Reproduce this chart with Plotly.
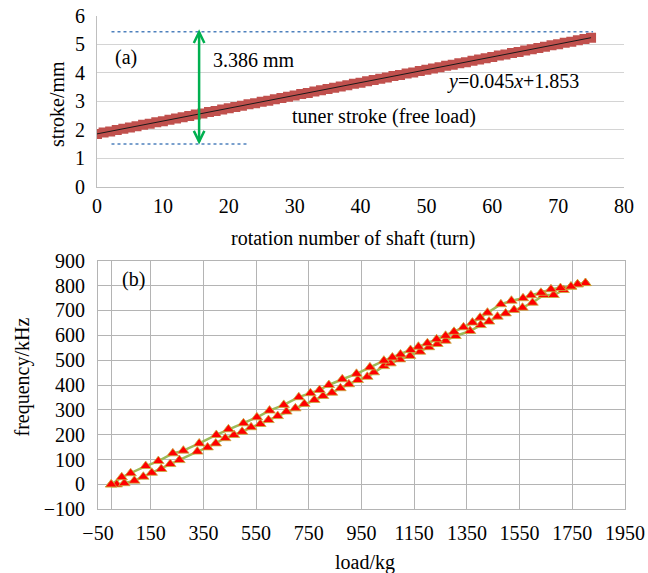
import plotly.graph_objects as go

# ---------------- data: (a) tuner stroke (free load) ----------------
turns = list(range(0, 76))
stroke_mm = [1.85, 1.90, 1.94, 1.99, 2.03, 2.08, 2.12, 2.17, 2.21, 2.26,
             2.30, 2.35, 2.39, 2.44, 2.48, 2.53, 2.57, 2.62, 2.66, 2.71,
             2.75, 2.80, 2.84, 2.89, 2.93, 2.98, 3.02, 3.07, 3.11, 3.16,
             3.20, 3.25, 3.29, 3.34, 3.38, 3.43, 3.47, 3.52, 3.56, 3.61,
             3.65, 3.70, 3.74, 3.79, 3.83, 3.88, 3.92, 3.97, 4.01, 4.06,
             4.10, 4.15, 4.19, 4.24, 4.28, 4.33, 4.37, 4.42, 4.46, 4.51,
             4.55, 4.60, 4.64, 4.69, 4.73, 4.78, 4.82, 4.87, 4.91, 4.96,
             5.00, 5.05, 5.09, 5.14, 5.18, 5.23]
trend_x = [0, 75]
trend_y = [1.853, 5.228]

# ---------------- data: (b) frequency vs load ----------------
load_up_kg = [0, 21, 50, 88, 122, 154, 190, 224, 259, 327, 366, 397, 433, 466,
              497, 531, 566, 597, 632, 665, 699, 733, 771, 804, 838, 870, 902,
              936, 972, 997, 1035, 1060, 1096, 1134, 1172, 1206, 1238, 1269,
              1307, 1362, 1402, 1434, 1466, 1497, 1529, 1561, 1599, 1641, 1679,
              1717, 1745, 1770, 1800]
freq_up_khz = [0, 0, 5, 15, 31, 47, 62, 82, 98, 132, 149, 165, 186, 199, 212,
               230, 243, 259, 275, 293, 306, 324, 340, 356, 369, 387, 403, 420,
               433, 451, 476, 487, 503, 517, 534, 552, 565, 578, 597, 617, 641,
               655, 675, 688, 702, 711, 731, 762, 762, 782, 795, 805, 810]
load_down_kg = [1800, 1770, 1745, 1705, 1669, 1631, 1593, 1563, 1519, 1479,
                1428, 1400, 1371, 1337, 1301, 1269, 1235, 1200, 1166, 1136,
                1098, 1067, 1035, 982, 931, 877, 826, 791, 756, 712, 655, 601,
                553, 502, 445, 399, 334, 274, 234, 179, 131, 74, 40, 0]
freq_down_khz = [810, 805, 796, 790, 785, 771, 761, 749, 739, 725, 691, 671,
                 651, 632, 614, 598, 584, 568, 554, 541, 523, 511, 498, 471,
                 445, 423, 400, 380, 367, 351, 320, 297, 270, 246, 222, 199,
                 165, 136, 125, 94, 74, 45, 29, 0]

FONT = "Liberation Serif, Times New Roman, serif"

fig = go.Figure()

# (a)
fig.add_trace(go.Scatter(
    x=turns, y=stroke_mm, mode="markers", xaxis="x", yaxis="y",
    marker=dict(symbol="square", size=10, color="rgb(192,80,77)",
                line=dict(width=0)),
    showlegend=False, hoverinfo="skip"))
fig.add_trace(go.Scatter(
    x=trend_x, y=trend_y, mode="lines", xaxis="x", yaxis="y",
    line=dict(color="#1a1a1a", width=1), showlegend=False, hoverinfo="skip"))

# (b)
fig.add_trace(go.Scatter(
    x=load_up_kg + load_down_kg, y=freq_up_khz + freq_down_khz,
    mode="lines+markers", xaxis="x2", yaxis="y2",
    line=dict(color="#9BBB59", width=2.5),
    marker=dict(symbol="triangle-up", size=10, color="#FF0000",
                line=dict(color="#C8B040", width=0.8)),
    showlegend=False, hoverinfo="skip"))

ax_font = dict(family=FONT, size=20, color="#000")

fig.update_layout(
    width=648, height=573,
    margin=dict(l=0, r=0, t=0, b=0, autoexpand=False),
    paper_bgcolor="white", plot_bgcolor="white",
    font=ax_font,
    xaxis=dict(domain=[97/648, 624/648], anchor="y", range=[0, 80],
               tick0=0, dtick=10, showgrid=False, zeroline=False,
               showline=True, linecolor="#BFBFBF", linewidth=1,
               ticks="outside", ticklen=1, tickcolor="rgba(0,0,0,0)",
               tickfont=ax_font, automargin=False),
    yaxis=dict(domain=[1-186.7/573, 1-15.7/573], anchor="x", range=[0, 6],
               tick0=0, dtick=1, showgrid=True, gridcolor="#D4D4D4",
               gridwidth=1, zeroline=False,
               showline=True, linecolor="#BFBFBF", linewidth=1,
               ticks="outside", ticklen=7, tickcolor="rgba(0,0,0,0)",
               tickfont=ax_font, automargin=False),
    xaxis2=dict(domain=[98/648, 625/648], anchor="y2", range=[-50, 1950],
                tick0=-50, dtick=200, showgrid=True, gridcolor="#B4B4B4",
                gridwidth=1, zeroline=True, zerolinecolor="#B4B4B4",
                zerolinewidth=1, showline=True, mirror=True,
                linecolor="#B4B4B4", linewidth=1,
                ticks="outside", ticklen=6, tickcolor="rgba(0,0,0,0)",
                tickfont=ax_font, automargin=False),
    yaxis2=dict(domain=[1-509.3/573, 1-260.7/573], anchor="x2",
                range=[-100, 900], tick0=-100, dtick=100, showgrid=True,
                gridcolor="#B4B4B4", gridwidth=1, zeroline=False,
                showline=True, mirror=True, linecolor="#B4B4B4", linewidth=1,
                ticks="outside", ticklen=8, tickcolor="rgba(0,0,0,0)",
                tickfont=ax_font, automargin=False),
)

annots = [
    # axis titles
    dict(text="rotation number of shaft (turn)", x=352.5/648, y=1-238/573),
    dict(text="load/kg", x=364.7/648, y=1-562/573),
    dict(text="stroke/mm", x=57/648, y=1-104/573, textangle=-90),
    dict(text="frequency/kHz", x=22/648, y=1-377.5/573, textangle=-90),
]
for a in annots:
    a.update(xref="paper", yref="paper", showarrow=False,
             xanchor="center", yanchor="middle", font=ax_font)

annots += [
    dict(text="(a)", x=4.4, y=4.52, xref="x", yref="y", showarrow=False,
         font=ax_font),
    dict(text="3.386 mm", x=23.8, y=4.45, xref="x", yref="y",
         showarrow=False, font=ax_font),
    dict(text="<i>y</i>=0.045<i>x</i>+1.853", x=63.1, y=3.68, xref="x",
         yref="y", showarrow=False, font=ax_font),
    dict(text="tuner stroke (free load)", x=43.6, y=2.46, xref="x",
         yref="y", showarrow=False, font=ax_font),
    dict(text="(b)", x=83, y=826, xref="x2", yref="y2", showarrow=False,
         font=ax_font),
]
fig.update_layout(annotations=annots)

# reference lines, green double arrow
green = "#00B050"
ax_x = 15.5
top, bot = 5.42, 1.58
dx, dy = 0.8, 0.38
shapes = [
    dict(type="line", xref="x", yref="y", x0=2.2, x1=75.3, y0=5.44, y1=5.44,
         line=dict(color="#4F81BD", width=1.5, dash="dot")),
    dict(type="line", xref="x", yref="y", x0=2.2, x1=22.7, y0=1.50, y1=1.50,
         line=dict(color="#4F81BD", width=1.5, dash="dot")),
    dict(type="line", xref="x", yref="y", x0=ax_x, x1=ax_x, y0=bot, y1=top,
         line=dict(color=green, width=2.5)),
    dict(type="path", xref="x", yref="y",
         path=f"M {ax_x-dx} {top-dy} L {ax_x} {top} L {ax_x+dx} {top-dy}",
         line=dict(color=green, width=2.5)),
    dict(type="path", xref="x", yref="y",
         path=f"M {ax_x-dx} {bot+dy} L {ax_x} {bot} L {ax_x+dx} {bot+dy}",
         line=dict(color=green, width=2.5)),
]
fig.update_layout(shapes=shapes)

fig.write_html(
    "out.html",
    config={"displayModeBar": False},
    post_script="document.body.style.margin='0';"
                "document.body.style.overflow='hidden';")
